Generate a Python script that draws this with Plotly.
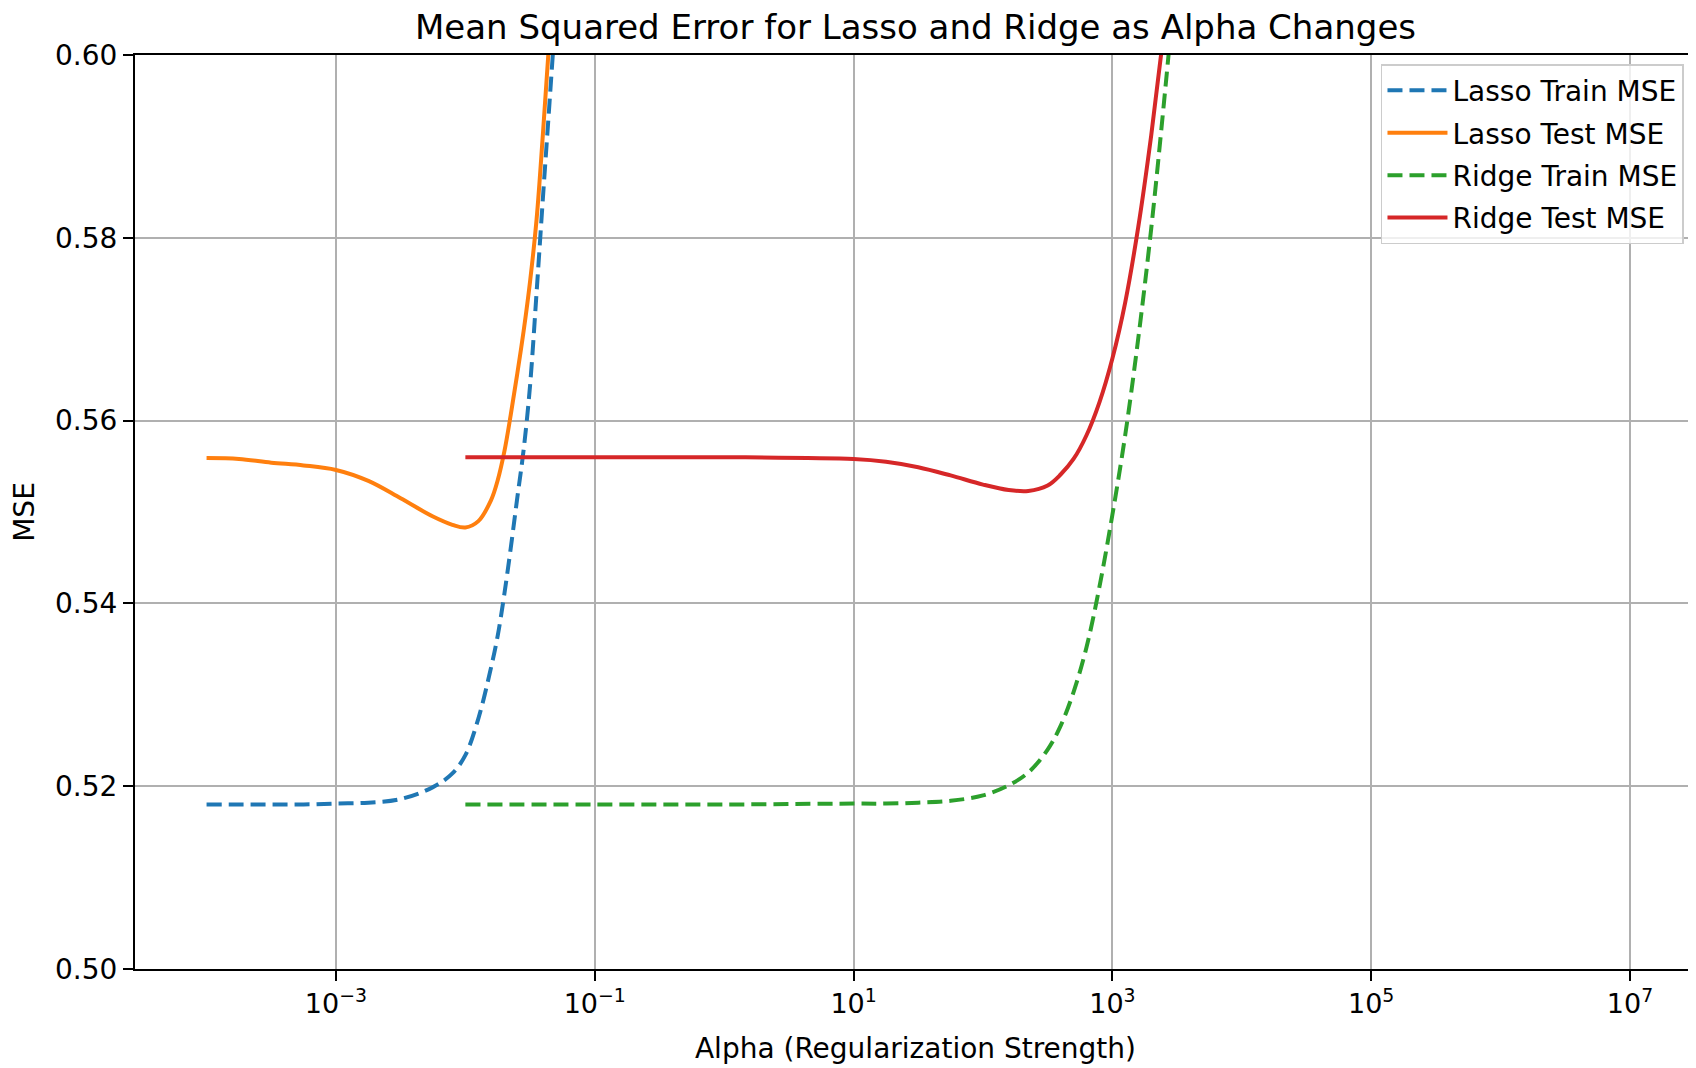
import plotly.graph_objects as go

# ---- data ----
lasso_alpha = [1e-4, 1.78e-4, 3.16e-4, 5.62e-4, 1e-3, 1.78e-3, 3.16e-3, 5.62e-3, 7.94e-3,
               1e-2, 1.26e-2, 1.58e-2, 1.78e-2, 2.0e-2, 2.24e-2, 2.51e-2, 2.82e-2,
               3.16e-2, 3.55e-2, 3.98e-2, 4.47e-2, 5.01e-2, 5.62e-2]
lasso_train = [0.5180, 0.5180, 0.5180, 0.5180, 0.5181, 0.5182, 0.5186, 0.5199, 0.5214,
               0.5234, 0.5274, 0.5330, 0.5365, 0.5410, 0.5460, 0.5514, 0.5568,
               0.5638, 0.5740, 0.5845, 0.5948, 0.6050, 0.6150]
lasso_test = [0.5559, 0.5558, 0.5554, 0.5551, 0.5546, 0.5534, 0.5515, 0.5495, 0.5486,
              0.5483, 0.5490, 0.5513, 0.5535, 0.5566, 0.5606, 0.5650, 0.5698,
              0.5752, 0.5820, 0.5915, 0.6020, 0.6130, 0.6240]

ridge_alpha = [1e-2, 1e-1, 1e0, 1e1, 17.8, 31.6, 56.2, 100, 158, 224, 316, 398, 501,
               631, 794, 1000, 1259, 1585, 1995, 2512, 3162]
ridge_train = [0.5180, 0.5180, 0.5180, 0.5181, 0.5181, 0.5182, 0.5184, 0.5190, 0.5201,
               0.5215, 0.5240, 0.5266, 0.5303, 0.5352, 0.5418, 0.5497, 0.5585,
               0.5690, 0.5810, 0.5950, 0.6100]
ridge_test = [0.5560, 0.5560, 0.5560, 0.5558, 0.5555, 0.5549, 0.5540, 0.5530, 0.5524,
              0.5523, 0.5529, 0.5541, 0.5558, 0.5584, 0.5620, 0.5668, 0.5730,
              0.5812, 0.5912, 0.6028, 0.6160]

x_tick_vals = [1e-3, 1e-1, 1e1, 1e3, 1e5, 1e7]
x_tick_text = ["10<sup>\u22123</sup>", "10<sup>\u22121</sup>", "10<sup>1</sup>",
               "10<sup>3</sup>", "10<sup>5</sup>", "10<sup>7</sup>"]
y_tick_vals = [0.50, 0.52, 0.54, 0.56, 0.58, 0.60]

series = [
    ("Lasso Train MSE", lasso_alpha, lasso_train, "#1f77b4", "15px,7px"),
    ("Lasso Test MSE", lasso_alpha, lasso_test, "#ff7f0e", "solid"),
    ("Ridge Train MSE", ridge_alpha, ridge_train, "#2ca02c", "15px,7px"),
    ("Ridge Test MSE", ridge_alpha, ridge_test, "#d62728", "solid"),
]

FONT = "DejaVu Sans"

fig = go.Figure()
for i, (name, xs, ys, color, dash) in enumerate(series):
    fig.add_trace(go.Scatter(
        x=xs, y=ys, mode="lines", name=name, legendgroup=f"g{i}",
        line=dict(color=color, width=4, dash=dash, shape="spline", smoothing=1.0),
    ))

# page body has an 8px default margin, so the figure is 8px smaller than the window
fig.update_layout(
    width=1688, height=1060,
    margin=dict(l=127, r=0, t=47, b=99),
    paper_bgcolor="white", plot_bgcolor="white",
    font=dict(family=FONT, size=28, color="black"),
    title=dict(text="Mean Squared Error for Lasso and Ridge as Alpha Changes",
               font=dict(family=FONT, size=34, color="black"),
               x=0.5, xref="paper", xanchor="center",
               y=1 - 19 / 1060, yref="container", yanchor="middle"),
    legend=dict(x=0.9923, y=0.9900, xanchor="right", yanchor="top",
                bgcolor="rgba(255,255,255,0.8)", bordercolor="#cccccc", borderwidth=1.5,
                font=dict(family=FONT, size=28, color="black"),
                tracegroupgap=3, traceorder="grouped", itemwidth=60),
    showlegend=True,
)

fig.update_xaxes(
    type="log", range=[-4.553, 7.51],
    tickmode="array", tickvals=x_tick_vals, ticktext=x_tick_text,
    showgrid=True, gridcolor="#b0b0b0", gridwidth=2,
    showline=True, linecolor="black", linewidth=2, mirror=True,
    ticks="outside", ticklen=10, tickwidth=2, tickcolor="black",
    tickfont=dict(family=FONT, size=27),
    zeroline=False,
    title=dict(text="Alpha (Regularization Strength)", font=dict(family=FONT, size=28), standoff=20),
)
fig.update_yaxes(
    range=[0.5, 0.6],
    tickmode="array", tickvals=y_tick_vals, tickformat=".2f",
    showgrid=True, gridcolor="#b0b0b0", gridwidth=2,
    showline=True, linecolor="black", linewidth=2, mirror=False,
    ticks="outside", ticklen=10, tickwidth=2, tickcolor="black",
    tickfont=dict(family=FONT, size=28),
    zeroline=False,
    title=dict(text="MSE", font=dict(family=FONT, size=28), standoff=16),
)

fig.write_html("out.html")
